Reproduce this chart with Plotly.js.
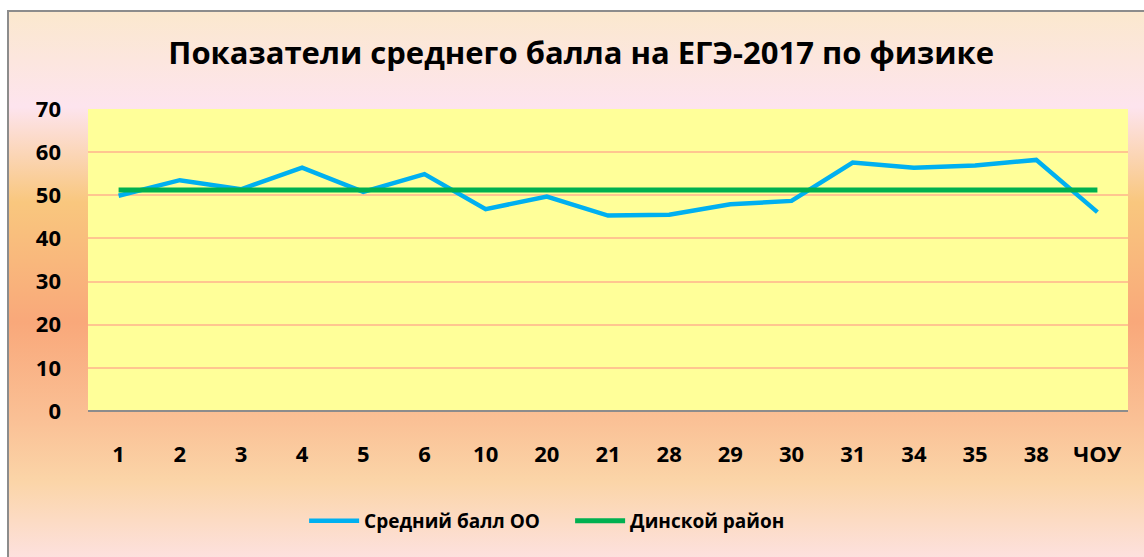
<!DOCTYPE html>
<html>
<head>
<meta charset="utf-8">
<script src="https://cdn.plot.ly/plotly-3.0.1.min.js"></script>
<style>
  html, body { margin: 0; padding: 0; background: #ffffff; }
  #wrap { position: relative; width: 1144px; height: 557px; overflow: hidden; background: #ffffff; }
  #bg { position: absolute; left: 7px; top: 10px; width: 1137px; height: 547px;
        border-left: 2px solid #8c8c8c; border-top: 2px solid #8c8c8c; box-sizing: border-box;
        background: linear-gradient(to bottom, #FBE8CE 0px, #FDE4EE 95px, #F9C77E 190px, #F9A87A 310px, #FAC196 410px, #FBD5A8 470px, #FDE1DF 547px); }
  #chart { position: absolute; left: 0; top: 0; width: 1144px; height: 557px; }
</style>
</head>
<body>
<div id="wrap">
  <div id="bg"></div>
  <div id="chart"></div>
</div>
<script>
const categories = ["1", "2", "3", "4", "5", "6", "10", "20", "21", "28", "29", "30", "31", "34", "35", "38", "ЧОУ"];
const schoolAvg = [49.9, 53.5, 51.4, 56.4, 50.8, 54.9, 46.8, 49.7, 45.3, 45.5, 47.9, 48.7, 57.6, 56.4, 56.9, 58.2, 46.1];
const districtAvg = [51.2, 51.2, 51.2, 51.2, 51.2, 51.2, 51.2, 51.2, 51.2, 51.2, 51.2, 51.2, 51.2, 51.2, 51.2, 51.2, 51.2];
const yTicks = [0, 10, 20, 30, 40, 50, 60, 70];
const seriesNames = ["Средний балл ОО", "Динской район"];
const chartTitle = "Показатели среднего балла на ЕГЭ-2017 по физике";

const FONT = "'Open Sans', 'DejaVu Sans', sans-serif";

const traces = [
  { x: categories, y: schoolAvg, name: seriesNames[0], type: "scatter", mode: "lines",
    line: { color: "#00B0F0", width: 4.5 } },
  { x: categories, y: districtAvg, name: seriesNames[1], type: "scatter", mode: "lines",
    line: { color: "#00B050", width: 5 } }
];

const layout = {
  width: 1144, height: 557,
  paper_bgcolor: "rgba(0,0,0,0)",
  plot_bgcolor: "#FFFF99",
  margin: { l: 88, r: 16, t: 109, b: 146 },
  title: { text: "<b>" + chartTitle + "</b>", font: { family: FONT, size: 31, color: "#000000" },
           x: 0.508, xanchor: "center", y: 0.905, yanchor: "middle" },
  showlegend: true,
  legend: { orientation: "h", x: 0.2078, xanchor: "left", y: -0.364, yanchor: "middle",
            font: { family: FONT, size: 19, color: "#000000", weight: "bold" },
            bgcolor: "rgba(0,0,0,0)", itemwidth: 50, tracegroupgap: 0,
            entrywidth: 201, entrywidthmode: "pixels" },
  xaxis: { type: "category", range: [-0.5, categories.length - 0.5], autorange: false,
           showgrid: false, zeroline: false,
           showline: false, ticks: "", ticklabelstandoff: 28,
           tickfont: { family: FONT, size: 22, color: "#000000", weight: "bold" },
           fixedrange: true },
  yaxis: { range: [0, 70], tickvals: yTicks, showgrid: true, gridcolor: "#FFC690", gridwidth: 2,
           zeroline: true, zerolinecolor: "#8c8c8c", zerolinewidth: 2,
           showline: false, ticks: "", ticklabelstandoff: 26,
           tickfont: { family: FONT, size: 22, color: "#000000", weight: "bold" },
           fixedrange: true }
};

Plotly.newPlot("chart", traces, layout, { displayModeBar: false, staticPlot: true });
</script>
</body>
</html>
